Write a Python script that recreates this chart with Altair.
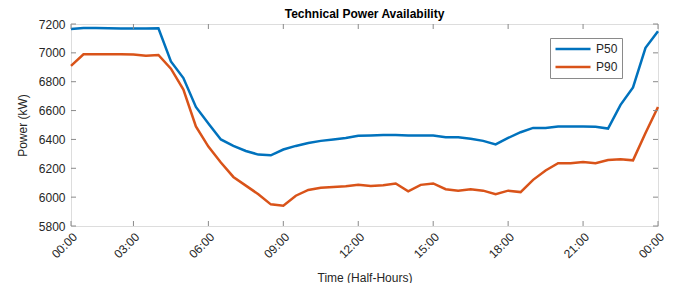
import altair as alt
import pandas as pd

# ---- data ----
slots = list(range(1, 49))  # half-hour slots
p50 = [7165, 7172, 7172, 7170, 7168, 7168, 7168, 7170, 6940, 6825,
       6625, 6510, 6400, 6355, 6320, 6295, 6290, 6330, 6355, 6375,
       6390, 6400, 6410, 6425, 6428, 6430, 6430, 6428, 6428, 6428,
       6415, 6415, 6405, 6390, 6365, 6410, 6450, 6480, 6480, 6490,
       6490, 6490, 6488, 6475, 6640, 6760, 7035, 7150]
p90 = [6910, 6990, 6990, 6990, 6990, 6988, 6980, 6985, 6890, 6745,
       6490, 6350, 6240, 6140, 6080, 6020, 5950, 5940, 6010, 6050,
       6065, 6070, 6075, 6085, 6078, 6082, 6095, 6040, 6085, 6095,
       6055, 6045, 6055, 6045, 6020, 6045, 6035, 6120, 6185, 6235,
       6235, 6243, 6235, 6258, 6262, 6255, 6445, 6625]
series_names = ["P50", "P90"]
series_colors = ["#0072BD", "#D95319"]
x_tick_values = [1, 6, 12, 18, 24, 30, 36, 42, 48]
x_tick_labels = ["00:00", "03:00", "06:00", "09:00", "12:00", "15:00", "18:00", "21:00", "00:00"]
y_tick_values = [5800, 6000, 6200, 6400, 6600, 6800, 7000, 7200]

W, H = 587, 202
FONT = "Liberation Sans"
TXT = "#262626"
FRAME = "#8a8a8a"

df = pd.DataFrame({
    "slot": slots * 2,
    "power": p50 + p90,
    "series": [series_names[0]] * len(p50) + [series_names[1]] * len(p90),
})
xt = pd.DataFrame({"slot": x_tick_values})
yt = pd.DataFrame({"power": y_tick_values})

label_expr = ("[" + ",".join("'%s'" % s for s in x_tick_labels) + "][indexof(["
              + ",".join(str(v) for v in x_tick_values) + "], datum.value)]")

x_enc = alt.X("slot:Q",
              scale=alt.Scale(domain=[1, 48], nice=False, zero=False),
              axis=alt.Axis(values=x_tick_values, labelExpr=label_expr, labelAngle=315,
                            title="Time (Half-Hours)", grid=False, domain=False,
                            ticks=False, tickSize=0, labelPadding=5,
                            labelFont=FONT, labelFontSize=12, labelColor=TXT,
                            titleFont=FONT, titleFontSize=12, titleFontWeight="normal",
                            titleColor=TXT, titleX=W / 2, titleY=51,
                            titleAlign="center", titleBaseline="middle"))
y_enc = alt.Y("power:Q",
              scale=alt.Scale(domain=[5800, 7200], nice=False, zero=False),
              axis=alt.Axis(values=y_tick_values, format="d", title="Power (kW)", grid=False,
                            domain=False, ticks=False, tickSize=0, labelPadding=6,
                            labelFont=FONT, labelFontSize=12, labelColor=TXT,
                            titleFont=FONT, titleFontSize=12, titleFontWeight="normal",
                            titleColor=TXT, titleX=-49, titleY=H / 2, titleAngle=270,
                            titleAlign="center", titleBaseline="middle"))

lines = alt.Chart(df).mark_line(strokeWidth=2.5).encode(
    x=x_enc,
    y=y_enc,
    color=alt.Color("series:N",
                    scale=alt.Scale(domain=series_names, range=series_colors),
                    legend=alt.Legend(title=None, orient="none", legendX=479, legendY=14,
                                      symbolType="stroke", symbolSize=1225,
                                      symbolStrokeWidth=2.5, labelFontSize=12,
                                      labelFont=FONT, labelColor=TXT, labelOffset=4,
                                      padding=4, rowPadding=4, clipHeight=14,
                                      strokeColor=FRAME, fillColor="white")),
)

tick_bottom = alt.Chart(xt).mark_rule(color=FRAME, strokeWidth=1).encode(
    x=x_enc, y=alt.value(H), y2=alt.value(H - 5))
tick_top = alt.Chart(xt).mark_rule(color=FRAME, strokeWidth=1).encode(
    x=x_enc, y=alt.value(0), y2=alt.value(5))
tick_left = alt.Chart(yt).mark_rule(color=FRAME, strokeWidth=1).encode(
    y=y_enc, x=alt.value(0), x2=alt.value(5))
tick_right = alt.Chart(yt).mark_rule(color=FRAME, strokeWidth=1).encode(
    y=y_enc, x=alt.value(W), x2=alt.value(W - 5))

chart = alt.layer(lines, tick_bottom, tick_top, tick_left, tick_right).properties(
    width=W, height=H,
    autosize=alt.AutoSizeParams(type="none"),
    padding={"left": 63, "top": 16, "right": 10, "bottom": 57},
    title=alt.TitleParams("Technical Power Availability", font=FONT, fontSize=12,
                          fontWeight="bold", color="#000000", anchor="middle",
                          frame="group", offset=6, dy=9),
).configure_view(stroke=FRAME, strokeWidth=1).configure(background="white")

chart.save("out.html", embed_options={"renderer": "svg", "actions": False})
